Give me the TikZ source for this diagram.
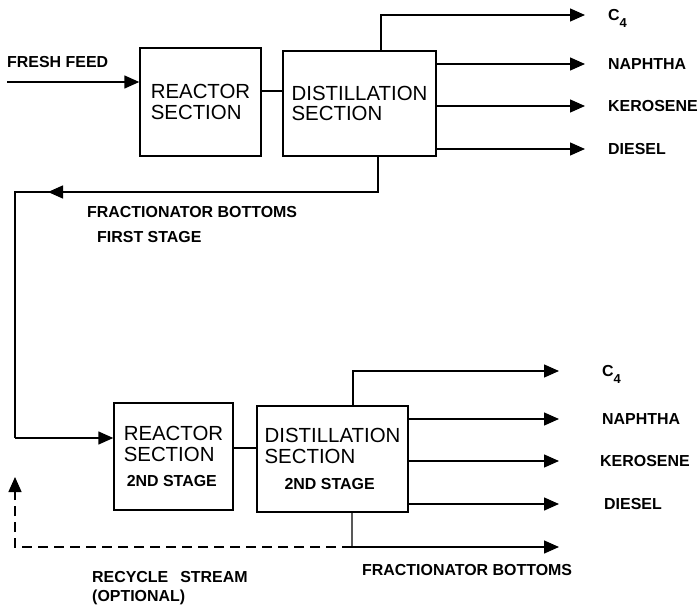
\documentclass[tikz,border=0pt]{standalone}
\usepackage{fontspec}
\setmainfont{Liberation Sans}
\usetikzlibrary{arrows.meta}
\usetikzlibrary{calc}
\usetikzlibrary{positioning}
\tikzset{
  unit/.style={draw, line width=1.4bp, align=left, inner sep=0pt,
    font=\fontsize{20.5}{21}\selectfont},
  pipe/.style={line width=1.4bp},
  flow/.style={line width=1.4bp, -{Triangle[length=15bp,width=13bp]}},
  lbl/.style={font=\bfseries\fontsize{16}{18}\selectfont, inner sep=0pt,
    anchor=west, text height=11.5bp, text depth=0pt},
}
\newcommand{\stagetxt}{{\bfseries\fontsize{16}{18}\selectfont 2ND STAGE}}
\newcommand{\cfour}{C\raisebox{-7bp}{\fontsize{13}{13}\selectfont 4}}

\begin{document}
\begin{tikzpicture}[x=1bp, y=-1bp]
\useasboundingbox (0,0) rectangle (698,606);
% first stage
\node[unit, minimum width=121bp, minimum height=108bp] (reac1) at (200.5,102) {REACTOR\\SECTION};
\node[unit, minimum width=153bp, minimum height=105bp] (dist1) at (359.5,103.5) {DISTILLATION\\SECTION};
\draw[pipe] ([yshift=11bp]reac1.east) -- ([yshift=11bp]reac1.east -| dist1.west);
\node[lbl] (feed) at (7,62) {FRESH FEED};
\coordinate (feedin) at (7,82);
\draw[flow] (feedin) -- (feedin -| reac1.west);
% products, first stage
\node[lbl] (c41) at (608,15) {\cfour};
\coordinate (c4tip1) at (585,15);
\draw[flow] ([xshift=21.5bp]dist1.north) |- (c4tip1);
\foreach \txt/\yy [count=\i] in {NAPHTHA/64,KEROSENE/106,DIESEL/149} {
  \node[lbl] (out1\i) at (608,\yy) {\txt};
  \coordinate (tip1\i) at (585,\yy);
  \draw[flow] (dist1.east |- out1\i) -- (tip1\i);
}
% bottoms to second stage
\coordinate (bend1) at (15,192);
\coordinate (bend2) at (15,438);
\draw[pipe] ([xshift=18.5bp]dist1.south) |- (bend1) -- (bend2);
\draw[flow] ($(bend1)+(70,0)$) -- ($(bend1)+(33,0)$);
\node[lbl] (fb1) at (87,212) {FRACTIONATOR BOTTOMS};
\node[lbl] (fs1) at (97,237) {FIRST STAGE};
% second stage
\node[unit, minimum width=119bp, minimum height=107bp] (reac2) at (173.5,456.5)
  {REACTOR\\SECTION\\[5bp]\hspace{3bp}\stagetxt};
\node[unit, minimum width=151bp, minimum height=106bp] (dist2) at (332.5,459)
  {DISTILLATION\\SECTION\\[5bp]\hspace{20bp}\stagetxt};
\draw[pipe] ([yshift=8.5bp]reac2.east) -- ([yshift=8.5bp]reac2.east -| dist2.west);
\draw[flow] (bend2) -- (bend2 -| reac2.west);
% products, second stage
\node[lbl] (c42) at (602,371) {\cfour};
\coordinate (c4tip2) at (559,371);
\draw[flow] ([xshift=20.5bp]dist2.north) |- (c4tip2);
\foreach \txt/\xx/\yy [count=\i] in {NAPHTHA/602/419,KEROSENE/600/461,DIESEL/604/504} {
  \node[lbl] (out2\i) at (\xx,\yy) {\txt};
  \coordinate (tip2\i) at (559,\yy);
  \draw[flow] (dist2.east |- out2\i) -- (tip2\i);
}
% bottoms and recycle
\coordinate (split2) at (352,547);
\coordinate (fbtip2) at (559,547);
\coordinate (rectip) at (15,477);
\draw[pipe] ([xshift=19.5bp]dist2.south) -- (split2);
\draw[flow] (split2) -- (fbtip2);
\draw[flow, dash pattern=on 10bp off 6bp] (split2) -| (rectip);
\node[lbl] (fb2) at (362,570) {FRACTIONATOR BOTTOMS};
\node[lbl] (rec) at (92,577) {RECYCLE\hspace{12bp}STREAM};
\node[lbl] (opt) at (92,596) {(OPTIONAL)};
\end{tikzpicture}
\end{document}
